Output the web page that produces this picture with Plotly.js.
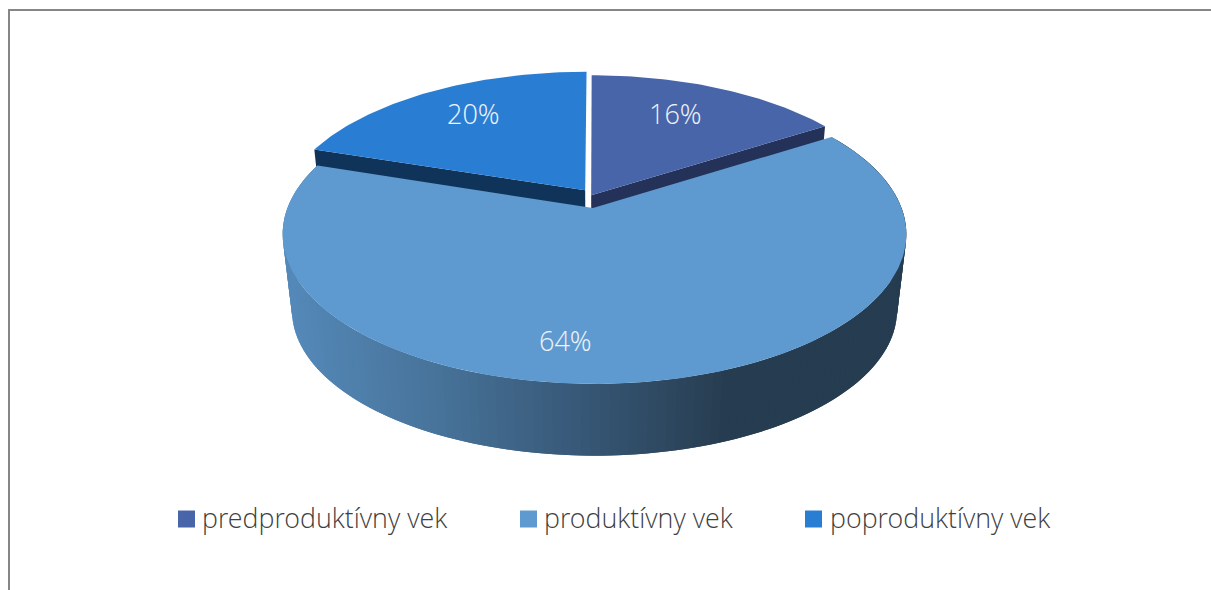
<!DOCTYPE html>
<html>
<head>
<meta charset="utf-8">
<script src="https://cdn.plot.ly/plotly-3.0.1.min.js"></script>
<style>html,body{margin:0;padding:0;background:#fff}#chart{width:1211px;height:590px}</style>
</head>
<body>
<div id="chart"></div>
<script>
// ---- data ----
const categories = ['predproduktívny vek', 'produktívny vek', 'poproduktívny vek'];
const values = [16, 64, 20];
const topColors = ['#4865A9', '#5E9ACF', '#297ED4'];
const wallColors = ['#243159', '#4A7BA8', '#10335A'];

// ---- perspective of the pie plane (presentation only) ----
const cam = {cx: 594.5, cyTop: 208, cyBase: 285, d: 5.7, fx: 1750, fy: 827, baseScale: 0.97};
const sliceShift = [[-0.011, 0.09], [0, 0], [-0.031, 0.125]];
const bigApexShift = [-0.005, 0];
const sideStops = [[290, [84,136,184]], [430, [72,116,155]], [590, [54,86,116]], [700, [42,66,87]], [730, [38,60,80]], [900, [38,60,80]]];
const labelSpots = [[675, 113], [565, 340], [473, 113]];
const legendSpots = [[186.5, 202], [528.5, 544], [813.5, 830]];
const LEGEND_Y = 519;
const FONT = '"Open Sans Light", "Open Sans", sans-serif';

function proj(u, v, base) {
  const k = 1 / (cam.d + v);
  const s = base ? cam.baseScale : 1;
  return [cam.cx + s * cam.fx * u * k, (base ? cam.cyBase : cam.cyTop) - s * cam.fy * v * k];
}
function rimPoint(deg, shift, base) {
  const t = deg * Math.PI / 180;
  return proj(Math.sin(t) + shift[0], Math.cos(t) + shift[1], base);
}
function poly(points, color, lineWidth) {
  return {
    type: 'scatter', mode: 'lines', x: points.map(p => p[0]), y: points.map(p => p[1]),
    fill: 'toself', fillcolor: color, line: {color: color, width: lineWidth || 0, shape: 'linear'},
    hoverinfo: 'skip', showlegend: false
  };
}
function sideColor(x) {
  for (let i = 1; i < sideStops.length; i++) {
    if (x <= sideStops[i][0]) {
      const a = sideStops[i - 1], b = sideStops[i];
      const f = Math.max(0, (x - a[0]) / (b[0] - a[0]));
      const c = a[1].map((q, j) => Math.round(q + (b[1][j] - q) * f));
      return 'rgb(' + c.join(',') + ')';
    }
  }
  const l = sideStops[sideStops.length - 1][1];
  return 'rgb(' + l.join(',') + ')';
}

// slice angles from the values
const total = values.reduce((a, b) => a + b, 0);
let acc = 0;
const spans = values.map(v => { const s = [acc, acc + v / total * 360]; acc = s[1]; return s; });

function arc(span, shift, base, step) {
  const n = Math.max(2, Math.ceil((span[1] - span[0]) / step));
  const out = [];
  for (let i = 0; i <= n; i++) out.push(rimPoint(span[0] + (span[1] - span[0]) * i / n, shift, base));
  return out;
}

const traces = [];
// walls of the two pulled-out slices (the big slice is drawn over them afterwards)
[2, 0].forEach(i => {
  const sh = sliceShift[i];
  const endDeg = i === 2 ? spans[i][0] : spans[i][1];
  traces.push(poly([proj(sh[0], sh[1], false), rimPoint(endDeg, sh, false), rimPoint(endDeg, sh, true), proj(sh[0], sh[1], true)], wallColors[i]));
});
// curved side of the big slice, strip by strip; going from the right-hand end to the left,
// every strip reaches under the next one so that no seam shows
const STEP = 1.5;
for (let a = spans[1][0]; a < spans[1][1]; a += STEP) {
  const b = Math.min(a + 2 * STEP, spans[1][1]);
  const e = Math.min(a + STEP, spans[1][1]);
  const p = [rimPoint(a, [0, 0], false)];
  for (let q = a + 0.25; q < b; q += 0.25) p.push(rimPoint(q, [0, 0], false));
  p.push(rimPoint(b, [0, 0], false));
  for (let q = b; q > a; q -= 0.25) p.push(rimPoint(q, [0, 0], true));
  p.push(rimPoint(a, [0, 0], true));
  const m = rimPoint((a + e) / 2, [0, 0], false);
  traces.push(poly(p, sideColor(m[0])));
}
// top faces
[0, 2, 1].forEach(i => {
  const sh = sliceShift[i];
  const apex = i === 1 ? proj(bigApexShift[0], bigApexShift[1], false) : proj(sh[0], sh[1], false);
  const pts = [apex].concat(arc(spans[i], sh, false, 1)).concat([apex]);
  traces.push(poly(pts, topColors[i]));
});
// legend swatches
categories.forEach((c, i) => {
  traces.push({
    type: 'scatter', mode: 'markers', x: [legendSpots[i][0]], y: [LEGEND_Y], name: c,
    marker: {symbol: 'square', size: 17, color: topColors[i]}, hoverinfo: 'skip', showlegend: false
  });
});

const annotations = [];
values.forEach((v, i) => annotations.push({
  x: labelSpots[i][0], y: labelSpots[i][1], xref: 'x', yref: 'y', text: v + '%', showarrow: false,
  xanchor: 'center', yanchor: 'middle', font: {family: FONT, size: 27, color: '#EEF3FA', weight: 300}
}));
categories.forEach((c, i) => annotations.push({
  x: legendSpots[i][1], y: LEGEND_Y - 1.5, xref: 'x', yref: 'y', text: c, showarrow: false,
  xanchor: 'left', yanchor: 'middle', xshift: -2, font: {family: FONT, size: 26.8, color: '#404040', weight: 300}
}));

const layout = {
  width: 1211, height: 590, margin: {l: 0, r: 0, t: 0, b: 0, pad: 0},
  paper_bgcolor: '#fff', plot_bgcolor: '#fff', showlegend: false, hovermode: false,
  xaxis: {range: [0, 1211], visible: false, fixedrange: true},
  yaxis: {range: [590, 0], visible: false, fixedrange: true},
  shapes: [
    {type: 'line', xref: 'x', yref: 'y', x0: 8, x1: 1211, y0: 10, y1: 10, line: {color: '#868686', width: 2}},
    {type: 'line', xref: 'x', yref: 'y', x0: 9, x1: 9, y0: 9, y1: 590, line: {color: '#868686', width: 2}}
  ],
  annotations: annotations
};
Plotly.newPlot('chart', traces, layout, {displayModeBar: false, staticPlot: true});
</script>
</body>
</html>
